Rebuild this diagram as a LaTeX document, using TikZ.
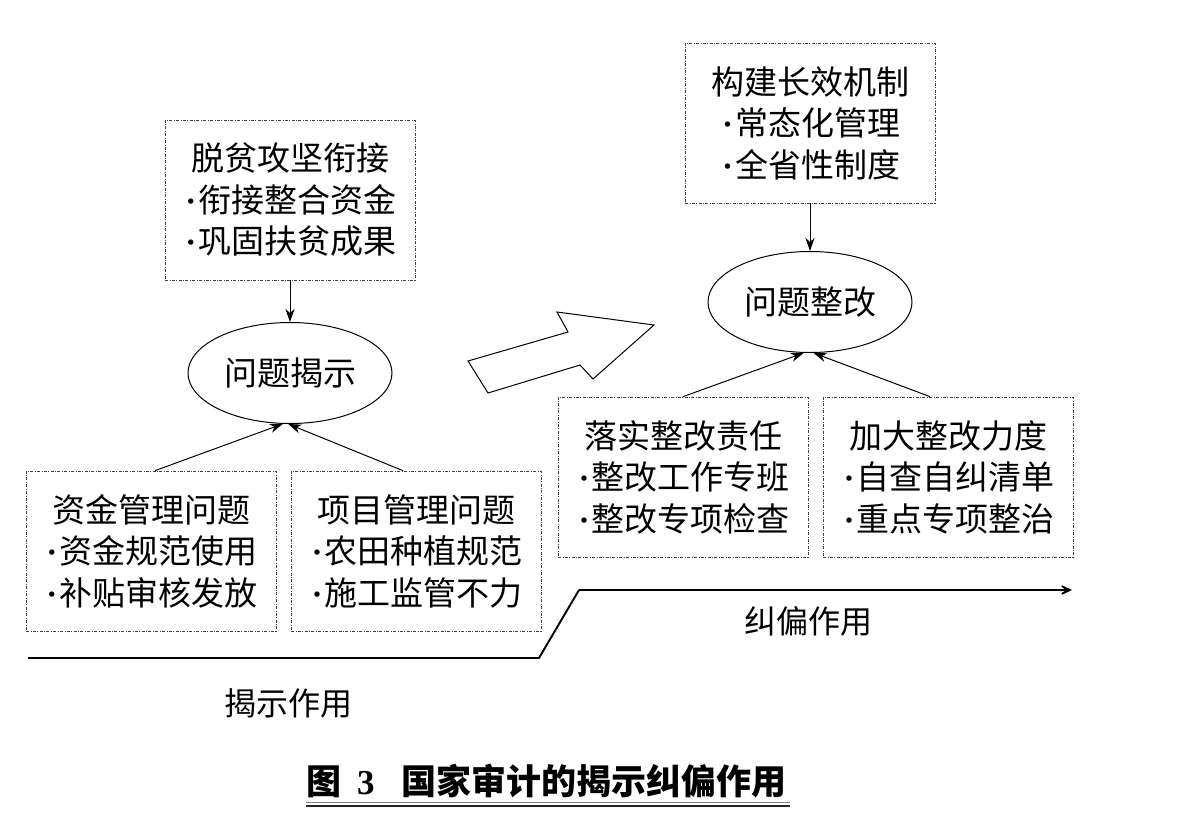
\documentclass[tikz,border=0pt]{standalone}
\usepackage{fontspec}
\newfontfamily\cjk{Noto Sans CJK SC}
\newfontfamily\tnr{Liberation Serif}
\newcommand\bul{\makebox[15pt][c]{\tnr\bfseries ·}}
\usetikzlibrary{shapes.geometric,arrows.meta,calc}
\tikzset{
  box/.style={draw=black!75, line width=0.7pt,
    dash pattern=on 3pt off 1.5pt on 0.8pt off 1.5pt,
    minimum width=250pt, minimum height=160pt, inner sep=0pt,
    align=center, font=\cjk\fontsize{33}{41.5}\selectfont},
  oval/.style={ellipse, draw, line width=1pt, minimum width=204pt,
    minimum height=101pt, inner sep=0pt, font=\cjk\fontsize{33}{40}\selectfont},
  conn/.style={-{Stealth[length=13pt,width=9pt,inset=4pt]}, line width=1pt},
  base/.style={line width=1.9pt},
  lab/.style={font=\cjk\fontsize{32}{36}\selectfont, inner sep=0pt},
  bigarrow/.style={draw, line width=1pt, fill=white, line join=miter},
}
\begin{document}
\begin{tikzpicture}[x=1pt,y=-1pt]
\useasboundingbox[fill=white] (0,0) rectangle (1202,839);

% left group
\node[box] (b1) at (290,200) {脱贫攻坚衔接\\\bul 衔接整合资金\\\bul 巩固扶贫成果};
\node[oval] (e1) at (290,373) {问题揭示};
\node[box] (b2) at (151,551) {资金管理问题\\\bul 资金规范使用\\\bul 补贴审核发放};
\node[box] (b3) at (416,551) {项目管理问题\\\bul 农田种植规范\\\bul 施工监管不力};
\draw[conn] (b1.south) -- (e1.north);
\draw[conn] ($(b2.north)+(4,0)$) -- (e1.262);
\draw[conn] ($(b3.north)+(-13,0)$) -- (e1.268);

% right group
\node[box] (b4) at (810,123) {构建长效机制\\\bul 常态化管理\\\bul 全省性制度};
\node[oval] (e2) at (810,302) {问题整改};
\node[box] (b5) at (683,477) {落实整改责任\\\bul 整改工作专班\\\bul 整改专项检查};
\node[box] (b6) at (948,477) {加大整改力度\\\bul 自查自纠清单\\\bul 重点专项整治};
\draw[conn] (b4.south) -- (e2.north);
\draw[conn] (b5.north) -- (e2.263);
\draw[conn] ($(b6.north)+(-18,0)$) -- (e2.274);

% hollow arrow
\draw[bigarrow] (468,361) -- (488,393) -- (580,365) -- (593,379) -- (654,325) -- (557,312) -- (568,332) -- cycle;

% base line
\coordinate (p0) at (28,658);
\coordinate (p1) at (539,658);
\coordinate (p2) at (579,590);
\coordinate (p3) at (1072,590);
\draw[base] (p0) -- (p1) -- (p2);
\draw[base, -{Stealth[length=17pt,width=16pt,inset=11pt]}] (p2) -- (p3);

\node[lab] (l1) at (288,703) {揭示作用};
\node[lab] (l2) at (808,621) {纠偏作用};

% caption
\node[anchor=west, inner sep=0pt, font=\cjk\bfseries\fontsize{35}{35}\selectfont] (cap) at (306,781)
  {图\hspace{16pt}{\tnr\bfseries 3}\hspace{27pt}国家审计的揭示纠偏作用};
\coordinate (u0) at (306,802);
\coordinate (u1) at (790,802);
\coordinate (v0) at (306,806);
\coordinate (v1) at (790,806);
\draw[line width=1pt, black!50] (u0) -- (u1);
\draw[line width=1.3pt, black!85] (v0) -- (v1);
\end{tikzpicture}
\end{document}
